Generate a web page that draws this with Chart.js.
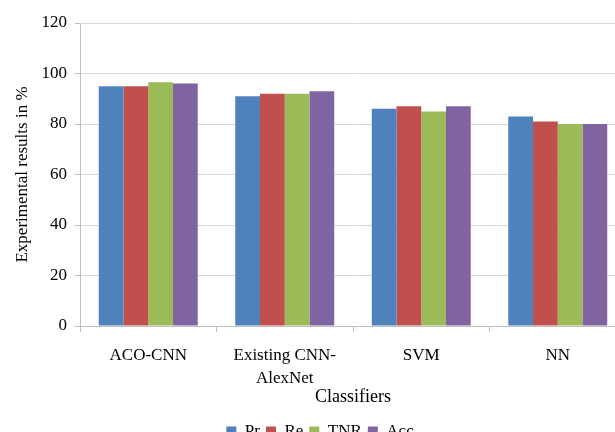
<!DOCTYPE html>
<html>
<head>
<meta charset="utf-8">
<script src="https://cdn.jsdelivr.net/npm/chart.js@4/dist/chart.umd.min.js"></script>
<style>
  html, body { margin: 0; padding: 0; background: #fff; overflow: hidden; }
  canvas { display: block; }
</style>
</head>
<body>
<canvas id="chart" width="640" height="450"></canvas>
<script>
// Classifier comparison: precision, recall, TNR and accuracy (%)
const categories = ['ACO-CNN', ['Existing CNN-', 'AlexNet'], 'SVM', 'NN'];
const seriesNames = ['Pr', 'Re', 'TNR', 'Acc'];
const prValues  = [95, 91, 86, 83];
const reValues  = [95, 92, 87, 81];
const tnrValues = [96.5, 92, 85, 80];
const accValues = [96, 93, 87, 80];
const yTicks = [0, 20, 40, 60, 80, 100, 120];

const colors = ['#4F81BD', '#C0504D', '#9BBB59', '#8064A2'];
const allValues = [prValues, reValues, tnrValues, accValues];

Chart.defaults.font.family = '"Liberation Serif", "Times New Roman", serif';
Chart.defaults.color = '#000';

new Chart(document.getElementById('chart'), {
  type: 'bar',
  data: {
    labels: categories,
    datasets: seriesNames.map((name, i) => ({
      label: name,
      data: allValues[i],
      backgroundColor: colors[i],
      borderWidth: 0,
      categoryPercentage: 0.725,
      barPercentage: 1.0
    }))
  },
  options: {
    responsive: false,
    animation: false,
    devicePixelRatio: 1,
    layout: { padding: { top: 23, right: 14, bottom: 0, left: 14 } },
    plugins: {
      tooltip: { enabled: false },
      legend: {
        position: 'bottom',
        labels: {
          boxWidth: 10,
          boxHeight: 10,
          padding: 6,
          font: { size: 17 },
          color: '#000'
        }
      }
    },
    scales: {
      y: {
        min: 0,
        max: 120,
        afterBuildTicks: (scale) => { scale.ticks = yTicks.map(v => ({ value: v })); },
        afterFit: (scale) => { scale.width = 66; },
        ticks: { font: { size: 17 }, color: '#000', padding: 8 },
        grid: { color: '#D9D9D9', tickLength: 5, tickColor: '#BFBFBF' },
        border: { color: '#BFBFBF' },
        title: {
          display: true,
          text: 'Experimental results in %',
          font: { size: 17 },
          color: '#000',
          padding: { top: -2, bottom: 0 }
        }
      },
      x: {
        afterFit: (scale) => { scale.height = 91; },
        ticks: { font: { size: 17, lineHeight: 1.35 }, color: '#000', padding: 12, maxRotation: 0 },
        grid: { drawOnChartArea: false, tickLength: 6, color: '#BFBFBF', offset: true },
        border: { color: '#BFBFBF' },
        title: {
          display: true,
          text: 'Classifiers',
          font: { size: 18 },
          color: '#000',
          padding: { top: 0, bottom: 9 }
        }
      }
    }
  }
});
</script>
</body>
</html>
